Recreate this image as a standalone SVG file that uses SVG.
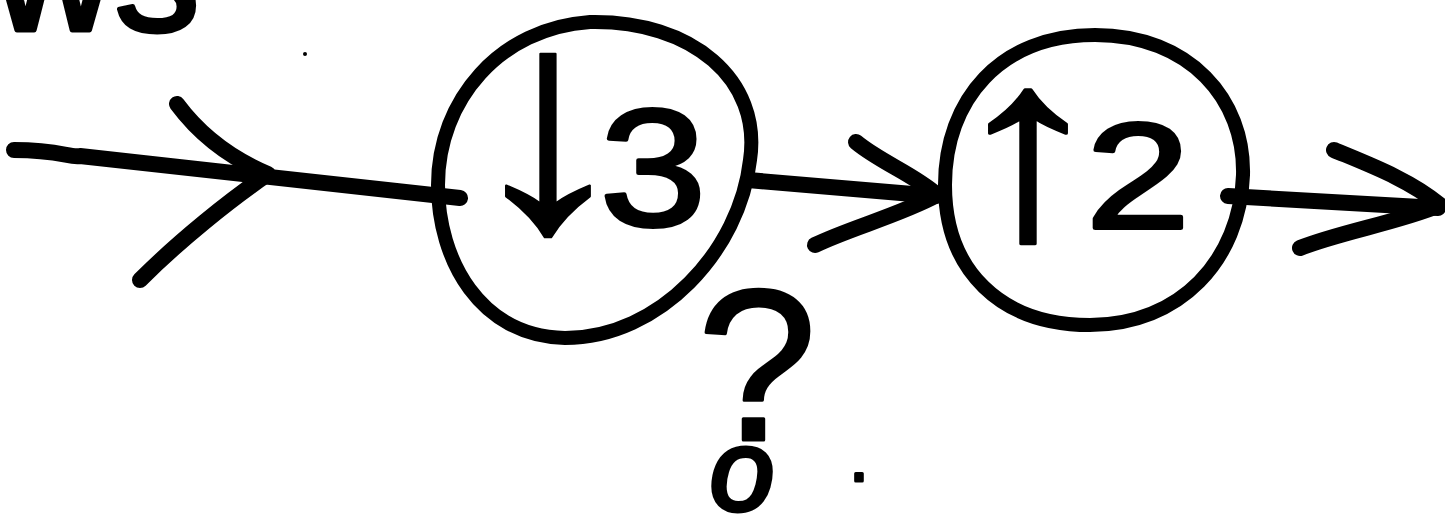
<svg xmlns="http://www.w3.org/2000/svg" width="1445" height="519" viewBox="0 0 1445 519">
<style>
.ink{fill:none;stroke:#000;stroke-linecap:round;stroke-linejoin:round}
.ring{stroke-width:14}
.conn{stroke-width:16}
.t{font-family:"Liberation Sans","DejaVu Sans",sans-serif;fill:#000;stroke:#000;stroke-linejoin:round}
</style>
<rect width="1445" height="519" fill="#fff"/>
<g id="fragment">
<text class="t" x="-8" y="30" font-size="170" stroke-width="5">ws</text>
</g>
<circle cx="305" cy="54" r="2" fill="#000"/>
<g id="connectors">
<path class="ink conn" d="M14 150 C60 150 70 158 80 156 L460 198"/>
<path class="ink conn" d="M177 104 C200 135 230 158 268 174 C230 200 180 240 140 280"/>
<path class="ink conn" d="M748 180 L936 196"/>
<path class="ink conn" d="M856 142 C880 162 915 175 937 195 C900 215 850 228 815 245"/>
<path class="ink conn" d="M1228 196 L1438 208"/>
<path class="ink conn" d="M1334 150 C1370 165 1410 180 1440 205 C1400 222 1340 232 1300 248"/>
</g>
<g id="node1">
<path class="ink ring" d="M590 22 C692 20 762 80 750 160 C740 250 660 338 565 338 C480 336 438 260 438 185 C438 100 500 28 590 22 Z"/>
<text class="t" transform="scale(1.15,1)" text-anchor="middle"><tspan x="476.5" y="228" font-size="310" stroke-width="2">↓</tspan><tspan x="567.8" y="225" font-size="167" stroke-width="4">3</tspan></text>
</g>
<g id="node2">
<path class="ink ring" d="M1095 35 C1190 35 1245 100 1243 175 C1240 260 1180 325 1090 325 C1000 325 945 270 945 185 C945 100 1000 35 1095 35 Z"/>
<text class="t" transform="scale(1.25,1)" text-anchor="middle"><tspan x="822.4" y="236" font-size="260" stroke-width="3">↑</tspan><tspan x="910.4" y="228" font-size="150" stroke-width="4">2</tspan></text>
</g>
<g id="question">
<text class="t" text-anchor="middle"><tspan x="757" y="440" font-size="215" stroke-width="3">?</tspan><tspan x="742" y="510" font-size="115" font-style="italic" stroke-width="5">o</tspan><tspan x="859" y="481" font-size="70" stroke-width="3">.</tspan></text>
</g>
</svg>
